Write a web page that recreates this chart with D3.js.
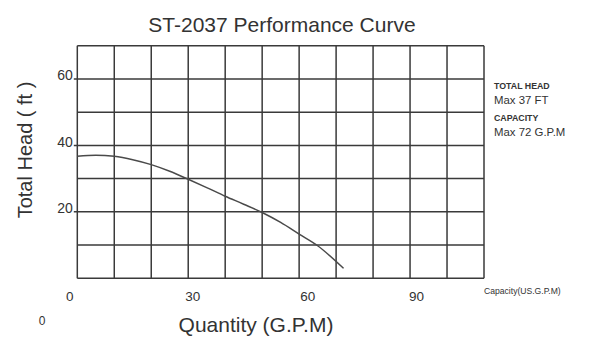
<!DOCTYPE html>
<html>
<head>
<meta charset="utf-8">
<script src="https://cdn.jsdelivr.net/npm/d3@7/dist/d3.min.js"></script>
<style>
  html, body { margin: 0; padding: 0; background: #fff; }
  svg { display: block; font-family: "Liberation Sans", Arial, sans-serif; }
</style>
</head>
<body>
<svg id="chart" width="601" height="355"></svg>
<script>
// ---- data ----
const flow = [0, 5, 10, 15, 20, 25, 30, 35, 40, 45, 50, 55, 60, 65, 72];
const head = [36.7, 37.0, 36.7, 35.7, 34.2, 32.2, 29.8, 27.3, 24.7, 22.3, 19.8, 16.8, 13.3, 9.8, 3.0];
const xTickValues = [0, 30, 60, 90];
const yTickValues = [20, 40, 60];
const xGridValues = d3.range(0, 111, 10);
const yGridValues = d3.range(0, 71, 10);
const title = "ST-2037 Performance Curve";
const xTitle = "Quantity (G.P.M)";
const yTitle = "Total Head ( ft )";
const infoLines = [
  { text: "TOTAL HEAD", bold: true },
  { text: "Max 37 FT", bold: false },
  { text: "CAPACITY", bold: true },
  { text: "Max 72 G.P.M", bold: false }
];

// ---- layout ----
const svg = d3.select("#chart");
const ink = "#333";
const x = d3.scaleLinear().domain([0, 110]).range([77.3, 484]);
const y = d3.scaleLinear().domain([0, 70]).range([278.3, 45.7]);
const xNudge = { 0: -7.6, 30: 4.6, 60: 8.6, 90: 6.4 };

// grid
const grid = svg.append("g").attr("stroke", "#3a3a3a").attr("stroke-width", 1.5);
grid.selectAll("line.v").data(xGridValues).join("line")
  .attr("class", "v")
  .attr("x1", d => x(d)).attr("x2", d => x(d))
  .attr("y1", y(70)).attr("y2", y(0));
grid.selectAll("line.h").data(yGridValues).join("line")
  .attr("class", "h")
  .attr("x1", d => yTickValues.includes(d) ? x(0) - 3.5 : x(0)).attr("x2", x(110))
  .attr("y1", d => y(d)).attr("y2", d => y(d));

// y tick labels
svg.append("g").selectAll("text").data(yTickValues).join("text")
  .attr("x", x(0) - 4.5)
  .attr("y", d => y(d) + 1.5)
  .attr("text-anchor", "end")
  .attr("font-size", 14)
  .attr("fill", ink)
  .text(d => d);

// x tick labels
svg.append("g").selectAll("text").data(xTickValues).join("text")
  .attr("x", d => x(d) + xNudge[d])
  .attr("y", 301)
  .attr("text-anchor", "middle")
  .attr("font-size", 13.5)
  .attr("fill", ink)
  .text(d => d);

// curve
const pts = flow.map((f, i) => [f, head[i]]);
svg.append("path")
  .datum(pts)
  .attr("fill", "none")
  .attr("stroke", "#4a4a4a")
  .attr("stroke-width", 1.5)
  .attr("d", d3.line().x(d => x(d[0])).y(d => y(d[1])).curve(d3.curveMonotoneX));

// titles
svg.append("text")
  .attr("x", 282).attr("y", 31.5)
  .attr("text-anchor", "middle")
  .attr("font-size", 21)
  .attr("fill", ink)
  .text(title);

svg.append("text")
  .attr("x", 256).attr("y", 332)
  .attr("text-anchor", "middle")
  .attr("font-size", 21)
  .attr("fill", ink)
  .text(xTitle);

svg.append("text")
  .attr("transform", "translate(32,150) rotate(-90)")
  .attr("text-anchor", "middle")
  .attr("font-size", 20)
  .attr("fill", ink)
  .text(yTitle);

// info block
const infoY = [89, 104, 121, 136];
svg.append("g").selectAll("text").data(infoLines).join("text")
  .attr("x", 494)
  .attr("y", (d, i) => infoY[i])
  .attr("font-size", d => d.bold ? 8.8 : 11.4)
  .attr("font-weight", d => d.bold ? "bold" : "normal")
  .attr("fill", ink)
  .text(d => d.text);

svg.append("text")
  .attr("x", 484).attr("y", 293.5)
  .attr("font-size", 8.6)
  .attr("fill", ink)
  .text("Capacity(US.G.P.M)");

svg.append("text")
  .attr("x", 42).attr("y", 325)
  .attr("text-anchor", "middle")
  .attr("font-size", 12)
  .attr("fill", ink)
  .text("0");
</script>
</body>
</html>
